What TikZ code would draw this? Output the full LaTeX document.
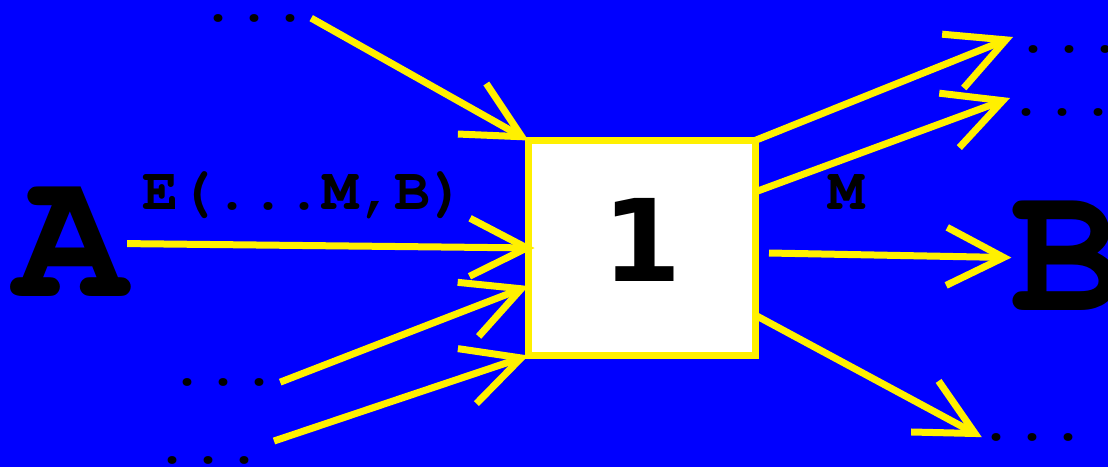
\documentclass[tikz,border=0pt]{standalone}
\usepackage[T1]{fontenc}
\usepackage{fontspec}
\newfontfamily\dvs{DejaVu Sans}
\newcommand{\courb}{\fontencoding{T1}\fontfamily{pcr}\fontseries{b}\fontshape{n}}
\newcommand{\courm}{\fontencoding{T1}\fontfamily{pcr}\fontseries{m}\fontshape{n}}
\usetikzlibrary{arrows.meta}
\definecolor{bg}{RGB}{0,0,255}
\definecolor{yel}{RGB}{255,240,0}
\begin{document}
\begin{tikzpicture}[x=1pt,y=-1pt,
  conn/.style={draw=yel, line width=7pt, -{Straight Barb[length=57pt,width=58pt]}},
  dotrow/.style={font=\courm\fontsize{60}{60}\selectfont, inner sep=3pt, anchor=base, text=black},
  lbl/.style={font=\courb\fontsize{60}{60}\selectfont, inner sep=0pt, anchor=base, text=black},
  big/.style={font=\courb\fontsize{188}{188}\selectfont, inner sep=0pt, anchor=base, text=black},
  boxst/.style={draw=yel, fill=white, line width=7pt, minimum width=226.5pt, minimum height=215pt,
    inner sep=0pt, outer sep=0pt, font=\dvs\bfseries\fontsize{114}{114}\selectfont, text=black}]
\fill[bg] (0,0) rectangle (1108,467);
\useasboundingbox (0,0) rectangle (1108,467);

% nodes
\node[boxst] (box) at (641.75,248) {\raisebox{16pt}{1}};
\node[big] (A) at (70.5,296) {A};
\node[big] (B) at (1067,310) {B};
\node[lbl] (lab) at (304,209) {E(...M,B)};
\node[lbl] (labm) at (846,209) {M};

\node[dotrow] (tl) at (254,21) {...};
\node[dotrow] (l1) at (223,385) {...};
\node[dotrow] (l2) at (208,463) {...};
\node[dotrow] (r1) at (1069,52) {...};
\node[dotrow] (r2) at (1062,115) {...};
\node[dotrow] (r3) at (1032,440) {...};

% free ends
\coordinate (l2s) at (274,441);
\coordinate (r1t) at (1013,37);
\coordinate (r2t) at (1010,98);
\coordinate (ms) at (769,253);

% connectors
\draw[conn] (tl.east) -- (box.north west);
\draw[conn] (A.east) -- ([xshift=6pt]box.west);
\draw[conn] (l1.east) -- ([yshift=-38pt]box.west);
\draw[conn] (l2s) -- (box.south west);
\draw[conn] (box.north east) -- (r1t);
\draw[conn] ([yshift=56pt]box.east) -- (r2t);
\draw[conn] (ms) -- ([xshift=1pt]B.west);
\draw[conn] ([yshift=-67pt]box.east) -- ([xshift=7pt]r3.west);
\end{tikzpicture}
\end{document}
